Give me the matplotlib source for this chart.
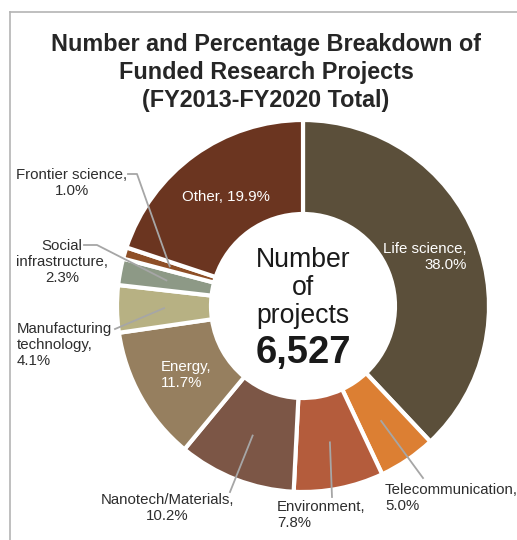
import matplotlib.pyplot as plt
import matplotlib.lines as mlines
import numpy as np

plt.rcParams['font.family'] = ['Liberation Sans', 'DejaVu Sans']

W, H = 517, 540

# data (clockwise from 12 o'clock)
fields = ['Life science', 'Telecommunication', 'Environment', 'Nanotech/Materials',
          'Energy', 'Manufacturing\ntechnology', 'Social\ninfrastructure',
          'Frontier science', 'Other']
shares = [38.0, 5.0, 7.8, 10.2, 11.7, 4.1, 2.3, 1.0, 19.9]
colors = ['#5b4f3a', '#dc7f33', '#b45c3c', '#7c5646', '#967f5f',
          '#b7b183', '#8d9986', '#8e4f27', '#6b3520']
total_projects = 6527
title_lines = ['Number and Percentage Breakdown of',
               'Funded Research Projects',
               '(FY2013-FY2020 Total)']


def up(y):
    return H - y


fig = plt.figure(figsize=(W / 100, H / 100), dpi=100)
ax = fig.add_axes([0, 0, 1, 1])

cx, cy = 303, 306
R_out, R_in = 186, 92

wedges, _ = ax.pie(shares, colors=colors, startangle=90, counterclock=False,
                   radius=R_out, center=(cx, up(cy)),
                   wedgeprops=dict(width=R_out - R_in, edgecolor='white', linewidth=3))
ax.set_xlim(0, W)
ax.set_ylim(0, H)
ax.set_aspect('equal')
ax.axis('off')

# frame lines of the original page
ax.add_line(mlines.Line2D([10, W], [up(12), up(12)], color='#b4b4b4', lw=1.2))
ax.add_line(mlines.Line2D([10, 10], [up(12), 0], color='#b4b4b4', lw=1.2))

# title
for i, line in enumerate(title_lines):
    ax.text(266, up(44 + i * 28.5), line, ha='center', va='center',
            fontsize=16.8, fontweight='bold', color='#262626')

# center text
for txt, yy in [('Number', 260), ('of', 288), ('projects', 316)]:
    ax.text(cx, up(yy), txt, ha='center', va='center', fontsize=19.2, color='#1a1a1a')
ax.text(cx, up(353), f'{total_projects:,}', ha='center', va='center',
        fontsize=27.5, fontweight='bold', color='#1a1a1a')


def lab(i):
    return f'{fields[i]},\n{shares[i]:.1f}%'


def mid_point(i, r=139):
    w = wedges[i]
    th = np.deg2rad((w.theta1 + w.theta2) / 2)
    return cx + r * np.cos(th), up(cy) + r * np.sin(th)


tc = '#2e2e2e'
fs = 10.8
lc = '#a6a6a6'

# inside labels
ax.text(467, up(257), lab(0), ha='right', va='center', ma='right', fontsize=fs,
        color='white', linespacing=1.2)
ax.text(226, up(197), f'{fields[8]}, {shares[8]:.1f}%', ha='center', va='center',
        fontsize=fs, color='white')
ax.text(161, up(375), lab(4), ha='left', va='center', ma='left', fontsize=fs,
        color='white', linespacing=1.2)

# outside labels with leader lines
ax.text(385, up(498), lab(1), ha='left', va='center', ma='left', fontsize=fs,
        color=tc, linespacing=1.2)
ax.text(277, up(515), lab(2), ha='left', va='center', ma='left', fontsize=fs,
        color=tc, linespacing=1.2)
ax.text(167, up(508), lab(3), ha='center', va='center', ma='center', fontsize=fs,
        color=tc, linespacing=1.2)
ax.text(17, up(345), lab(5), ha='left', va='center', ma='left', fontsize=fs,
        color=tc, linespacing=1.2)
ax.text(62, up(262), lab(6), ha='center', va='center', ma='center', fontsize=fs,
        color=tc, linespacing=1.2)
ax.text(72, up(183), lab(7), ha='center', va='center', ma='center', fontsize=fs,
        color=tc, linespacing=1.2)

leaders = [
    (1, [(423, 478)]),
    (2, [(332, 497)]),
    (3, [(230, 492)]),
    (5, [(115, 329)]),
    (6, [(84, 245), (97, 245)]),
    (7, [(128, 174), (137, 174)]),
]
for i, pts in leaders:
    mx, my = mid_point(i)
    xs = [p[0] for p in pts] + [mx]
    ys = [up(p[1]) for p in pts] + [my]
    ax.add_line(mlines.Line2D(xs, ys, color=lc, lw=1.3))

fig.savefig('out.png', dpi=100)
